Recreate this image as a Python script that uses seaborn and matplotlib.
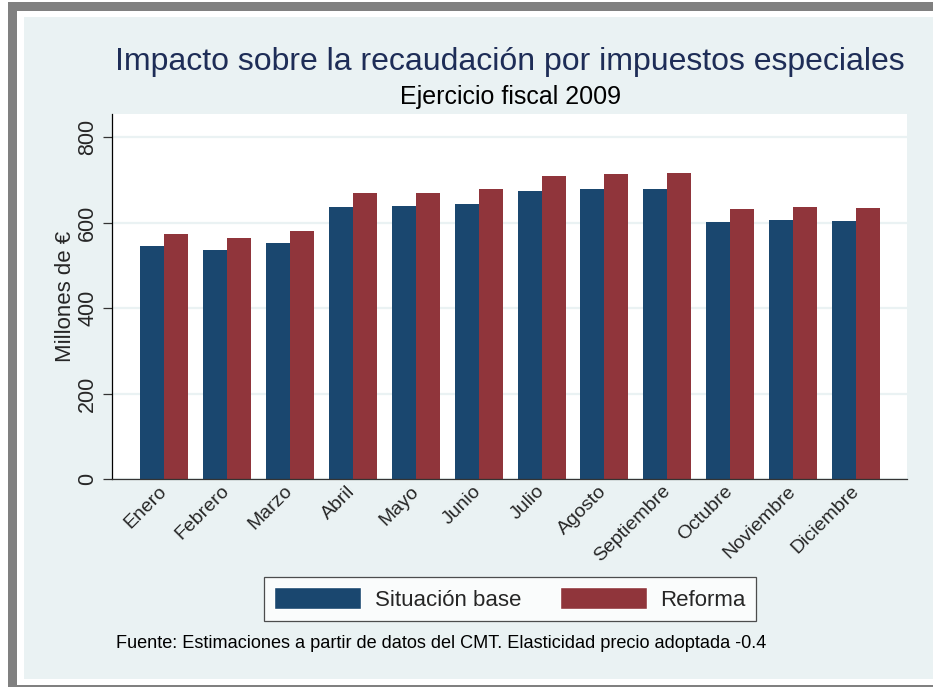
import numpy as np
import pandas as pd
import matplotlib
matplotlib.use("Agg")
import matplotlib.pyplot as plt
import seaborn as sns
from matplotlib.patches import Rectangle

# data
meses = ["Enero", "Febrero", "Marzo", "Abril", "Mayo", "Junio", "Julio",
         "Agosto", "Septiembre", "Octubre", "Noviembre", "Diciembre"]
situacionBase = [546, 536, 552, 636, 638, 644, 675, 678, 678, 601, 606, 604]
reforma = [574, 564, 581, 670, 670, 678, 710, 714, 715, 632, 636, 635]
series = ["Situación base", "Reforma"]
yTicks = [0, 200, 400, 600, 800]

BLUE = "#1a476f"
RED = "#90353b"
BG = "#eaf2f3"
TITLE_COLOR = "#1e2d57"

sns.set_style("white")
plt.rcParams["font.family"] = ["Liberation Sans", "DejaVu Sans"]

df = pd.DataFrame({
    "mes": meses * 2,
    "valor": situacionBase + reforma,
    "serie": [series[0]] * len(meses) + [series[1]] * len(meses),
})

W, H = 933, 687
fig = plt.figure(figsize=(W / 100, H / 100), dpi=100, facecolor="white")

def figRect(x0, y0, x1, y1, color):
    # pixel box (top-left origin) to a figure patch
    fig.patches.append(Rectangle((x0 / W, 1 - y1 / H), (x1 - x0) / W, (y1 - y0) / H,
                                 transform=fig.transFigure, facecolor=color,
                                 edgecolor="none", zorder=-10))

# window frame + stata background panel
figRect(24, 17, 933, 679, BG)
figRect(8, 2, 933, 11, "#808080")
figRect(8, 2, 17, 687, "#808080")
figRect(8, 685, 933, 687, "#808080")

ax = fig.add_axes([112 / W, 1 - 479 / H, (907 - 112) / W, (479 - 114) / H])
ax.set_facecolor("white")

sns.barplot(data=df, x="mes", y="valor", hue="serie", order=meses,
            hue_order=series, palette=[BLUE, RED], width=0.763, gap=0,
            saturation=1, linewidth=0, ax=ax, legend=True)

ax.set_xlim(-0.83, 11.81)
ax.set_ylim(0, 854)
ax.set_yticks(yTicks)
ax.grid(axis="y", color=BG, linewidth=1.6)
ax.set_axisbelow(True)
for s in ["top", "right"]:
    ax.spines[s].set_visible(False)
ax.spines["left"].set_color("#000000")
ax.spines["left"].set_linewidth(0.9)
ax.spines["bottom"].set_color("#333333")
ax.spines["bottom"].set_linewidth(0.9)

ax.tick_params(axis="y", length=6.5, width=0.9, color="#333333", pad=3.5,
               labelsize=15.5, left=True)
for lbl in ax.get_yticklabels():
    lbl.set_rotation(90)
    lbl.set_va("center")
ax.tick_params(axis="x", length=0, pad=7, labelsize=14)
for lbl in ax.get_xticklabels():
    lbl.set_rotation(45)
    lbl.set_ha("right")
    lbl.set_va("center")
    lbl.set_rotation_mode("anchor")

ax.set_xlabel("")
ax.set_ylabel("Millones de €", fontsize=16)
ax.yaxis.set_label_coords(-0.045, 0.5)

# legend below the plot
ax.get_legend().remove()
handles = [Rectangle((0, 0), 1, 1, facecolor=BLUE), Rectangle((0, 0), 1, 1, facecolor=RED)]
leg = fig.legend(handles, series, loc="center", bbox_to_anchor=(510 / W, 1 - 599 / H),
                 ncol=2, fontsize=16, frameon=True, fancybox=False, edgecolor="#222222",
                 handlelength=3.9, handleheight=1.08, handletextpad=0.63,
                 columnspacing=1.75, borderpad=0.45)
leg.get_frame().set_linewidth(0.9)

fig.text(510 / W, 1 - 70 / H, "Impacto sobre la recaudación por impuestos especiales",
         ha="center", va="baseline", fontsize=23, color=TITLE_COLOR)
fig.text(510 / W, 1 - 104 / H, "Ejercicio fiscal 2009",
         ha="center", va="baseline", fontsize=18, color="black")
fig.text(116 / W, 1 - 643 / H,
         "Fuente: Estimaciones a partir de datos del CMT. Elasticidad precio adoptada -0.4",
         ha="left", va="center", fontsize=13.1, color="black")

fig.savefig("out.png", dpi=100, facecolor="white")
